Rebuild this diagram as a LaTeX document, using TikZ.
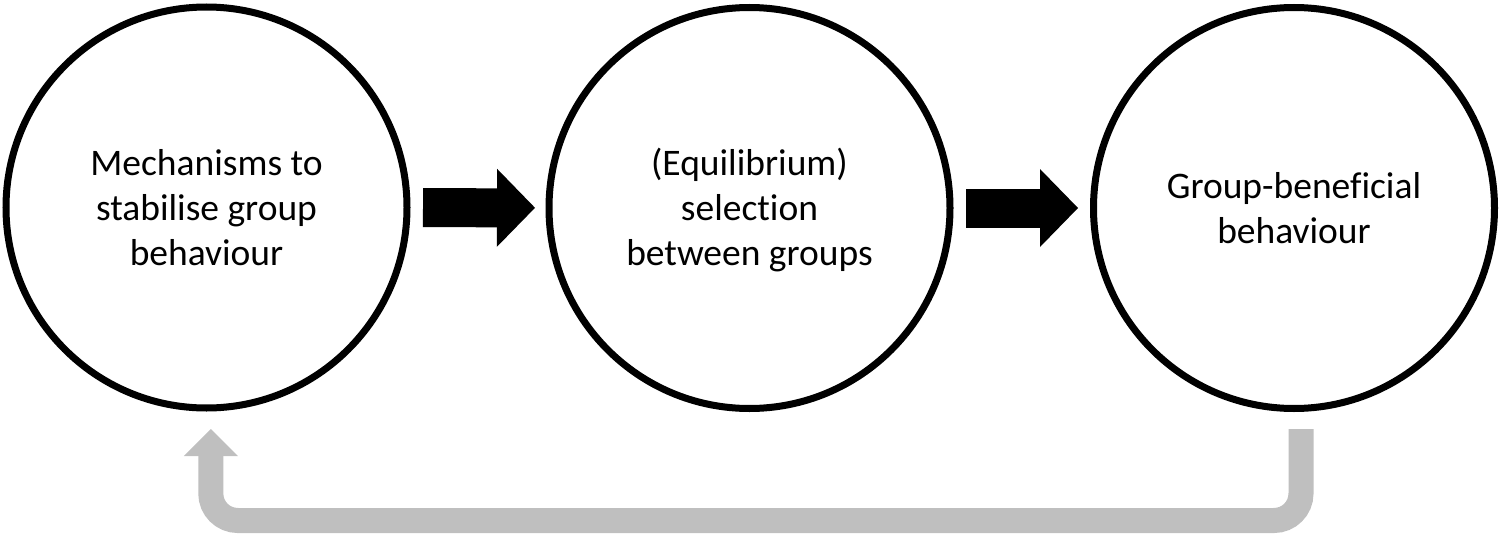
\documentclass[tikz,border=0pt]{standalone}
\usepackage{fontspec}
\setmainfont[Ligatures=NoCommon]{Carlito}
\usetikzlibrary{arrows.meta,calc}
\definecolor{fbgray}{RGB}{191,191,191}
\tikzset{
  circ/.style={circle, draw=black, line width=7pt, minimum size=401pt, inner sep=0pt, fill=white,
    align=center, font=\fontsize{37.5pt}{45pt}\selectfont},
  blk/.style={line width=39pt, black, -{Triangle[length=38pt,width=78pt,line width=0pt]}},
  fb/.style={line width=25pt, fbgray, rounded corners=27pt, -{Triangle[length=27pt,width=54pt,line width=0pt]}}
}
\newcommand{\topr}{\rule{0pt}{35pt}}
\newcommand{\botr}{\rule[-9.5pt]{0pt}{9.5pt}}
\begin{document}
\begin{tikzpicture}[x=1pt,y=-1pt]
\useasboundingbox (0,0) rectangle (1500,535);
\node[circ] (c1) at (206.5,207.5) {\topr Mechanisms to\\stabilise group\\behaviour\botr};
\node[circ] (c2) at (749.5,208) {\topr(Equilibrium)\\selection\\between groups\botr};
\node[circ] (c3) at (1294,208) {\topr Group-beneficial\\behaviour\botr};
\draw[blk, shorten <=12.5pt, shorten >=10.5pt] (c1) -- (c2);
\draw[blk, shorten <=12.5pt, shorten >=12pt] (c2) -- (c3);
\coordinate (fbstart) at ($(c3.south)+(7,17)$);
\coordinate (fbend) at ($(c1.south)+(4.3,17.5)$);
\draw[fb] (fbstart) -- ++(0,91.5) -| (fbend);
\end{tikzpicture}
\end{document}
